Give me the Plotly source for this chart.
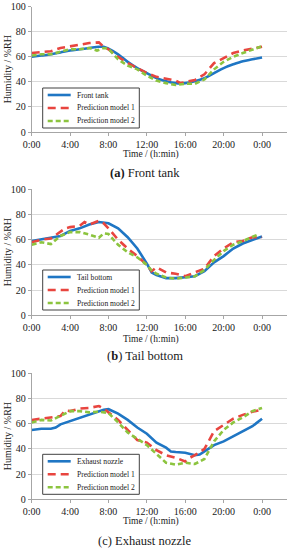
import plotly.graph_objects as go

# ---------------- data (hours of day, %RH) ----------------
tick_hours = [0, 4, 8, 12, 16, 20, 24]
tick_labels = ["0:00", "4:00", "8:00", "12:00", "16:00", "20:00", "0:00"]
series_names = ["Prediction model 1", "Prediction model 2"]

# (a) Front tank
a_meas_x = [0, 1, 2, 3, 4, 5, 6, 7, 7.5, 8, 9, 10, 11, 12, 13, 14, 15, 16, 17, 18, 19, 20, 21, 22, 23, 24]
a_meas_y = [60, 61, 62, 63.5, 65, 66, 67, 68, 68, 66.5, 62, 56, 51, 47, 43, 40.5, 39, 39, 40.5, 43, 47, 51, 54, 56.5, 58, 59.5]
a_p1_x = [0, 1, 2, 3, 4, 5, 6, 7, 7.5, 8, 9, 10, 11, 12, 13, 14, 15, 15.5, 16, 17, 18, 19, 20, 21, 22, 23, 24]
a_p1_y = [63, 63.5, 64.5, 67, 68.5, 70, 71, 71.5, 68, 66, 60, 55, 51, 47, 44, 42.5, 41, 39, 40, 41.5, 46, 55, 59, 63, 65, 66.5, 68]
a_p2_x = [0, 1, 2, 3, 4, 5, 6, 6.8, 7.5, 8, 9, 10, 11, 12, 13, 14, 15, 16, 17, 18, 19, 20, 21, 22, 23, 24]
a_p2_y = [61, 62, 62, 64, 66, 66, 67, 65, 67, 66.5, 58, 53, 50, 45, 41, 39, 37.5, 38.5, 38.5, 42, 50, 56, 60, 63, 66, 68.5]

# (b) Tail bottom
b_meas_x = [0, 1, 2, 3, 4, 5, 6, 7, 8, 9, 10, 11, 12, 12.5, 13, 14, 15, 16, 17, 18, 19, 20, 21, 22, 23, 24]
b_meas_y = [59, 60.5, 61.5, 63, 67, 69, 72, 74, 73, 69, 62, 53, 41, 34, 32, 29.5, 29.5, 30, 31, 35, 42, 47, 53, 57, 60, 62.5]
b_p1_x = [0, 1, 2, 3, 3.5, 4, 5, 5.5, 6, 7, 7.5, 8, 9, 10, 11, 12, 12.5, 13, 14, 15, 16, 17, 18, 19, 20, 21, 22, 23, 24]
b_p1_y = [58, 60, 61, 66, 69, 70, 71, 74, 72, 75, 73, 69, 60, 53, 47, 40, 35, 38, 34, 33, 31, 34, 37, 47, 53, 58, 59, 62, 62]
b_p2_x = [0, 1, 2, 3, 4, 5, 6, 7, 7.5, 8, 9, 10, 11, 12, 12.5, 13, 14, 15, 16, 17, 18, 19, 20, 21, 22, 23, 23.7]
b_p2_y = [56, 58, 56.5, 63, 66, 66, 64, 61.5, 65, 64.5, 56, 50, 46, 40, 35.5, 33, 30, 29, 30, 31, 36, 44, 51, 56, 59, 62, 64.5]

# (c) Exhaust nozzle
c_meas_x = [0, 0.5, 1, 2, 2.5, 3, 4, 5, 6, 7, 7.5, 8, 9, 10, 11, 12, 13, 14, 14.5, 15, 16, 17, 17.5, 18, 19, 20, 21, 22, 23, 24]
c_meas_y = [55, 55.5, 56, 56, 57, 59.5, 62, 65, 67, 69.5, 71, 71.5, 68, 63, 57, 52, 45, 41, 38, 37.5, 37, 35, 35.5, 38, 43, 46, 50, 54, 58, 64]
c_p1_x = [0, 1, 2, 3, 3.5, 4, 5, 6, 7, 7.5, 8, 9, 10, 11, 12, 13, 14, 15, 16, 16.5, 17, 18, 19, 20, 21, 22, 23, 24]
c_p1_y = [63, 64, 65, 66, 70.5, 70, 72, 72.5, 74, 72, 69, 63, 55, 47, 45, 39, 35, 33, 30, 33, 35, 40, 54, 59, 64, 67, 69.5, 71]
c_p2_x = [0, 1, 2, 3, 4, 5, 6, 7, 8, 9, 10, 11, 12, 13, 14, 15, 16, 17, 18, 19, 20, 21, 22, 23, 24]
c_p2_y = [61, 63, 62.5, 66, 70, 70, 69, 69.5, 68.5, 61, 53, 48, 43, 36, 29, 27.5, 29, 28, 32, 46, 55, 61, 65, 70, 72.5]

panels = [
    ("Front tank", "<b>(a)</b> Front tank", (a_meas_x, a_meas_y), (a_p1_x, a_p1_y), (a_p2_x, a_p2_y)),
    ("Tail bottom", "(<b>b</b>) Tail bottom", (b_meas_x, b_meas_y), (b_p1_x, b_p1_y), (b_p2_x, b_p2_y)),
    ("Exhaust nozzle", "(c) Exhaust nozzle", (c_meas_x, c_meas_y), (c_p1_x, c_p1_y), (c_p2_x, c_p2_y)),
]

# ---------------- layout geometry (pixels) ----------------
W, H = 291, 550
def px(p):
    return p / W
def py(p):
    return 1 - p / H

plot_tops = [6.7, 189.3, 373.3]
plot_bots = [132.0, 315.3, 499.3]
xtitle_y = [155, 339.3, 521.7]
caption_y = [173, 356, 540.5]
legend_top = [88, 270, 454.3]

BLUE = "#1f76c4"
RED = "#e8453f"
GREEN = "#8cc43f"
GRID = "#d9d9d9"
AXIS = "#a6a6a6"
TXT = "#1a1a1a"
FONT = "Liberation Serif, Times New Roman, Times, serif"

styles = [
    dict(color=BLUE, width=2.6, dash="solid"),
    dict(color=RED, width=2.6, dash="8px,5px"),
    dict(color=GREEN, width=2.6, dash="5px,3px"),
]

fig = go.Figure()
layout = dict(
    width=W, height=H, margin=dict(l=0, r=0, t=0, b=0),
    paper_bgcolor="white", plot_bgcolor="white",
    font=dict(family=FONT, size=10, color=TXT),
    showlegend=False,
    annotations=[], shapes=[],
)

def note(text, x, y, size, xanchor="center", angle=0):
    return dict(text=text, xref="paper", yref="paper", x=px(x), y=py(y),
                xanchor=xanchor, yanchor="middle", textangle=angle,
                showarrow=False, font=dict(family=FONT, size=size, color=TXT))

x_dom = [px(31.7), px(287)]
for i, (mname, cap, meas, p1, p2) in enumerate(panels):
    n = "" if i == 0 else str(i + 1)
    xa, ya = "x" + n, "y" + n
    names = [mname] + series_names
    datas = [meas, p1, p2]
    for k in range(3):
        st = dict(styles[k])
        if k == 0 and i == 0:
            st["shape"] = "spline"
        fig.add_trace(go.Scatter(x=datas[k][0], y=datas[k][1], mode="lines", name=names[k],
                                 line=st, xaxis=xa, yaxis=ya))
    layout["xaxis" + n] = dict(
        domain=x_dom, anchor=ya, range=[0, 26.6], automargin=False,
        tickvals=tick_hours, ticktext=tick_labels,
        showgrid=False, zeroline=False, showline=True, linecolor=AXIS, linewidth=1,
        ticks="outside", ticklen=3, tickcolor=AXIS,
        tickfont=dict(family=FONT, size=10, color=TXT),
    )
    layout["yaxis" + n] = dict(
        domain=[py(plot_bots[i]), py(plot_tops[i])], anchor=xa, range=[0, 100],
        automargin=False,
        dtick=20, showgrid=True, gridcolor=GRID, gridwidth=1,
        zeroline=False, showline=True, linecolor=AXIS, linewidth=1,
        ticks="outside", ticklen=3, tickcolor=AXIS,
        tickfont=dict(family=FONT, size=10, color=TXT),
    )
    layout["annotations"].append(note("Humidity / %RH", 7, (plot_tops[i] + plot_bots[i]) / 2, 10, angle=-90))
    layout["annotations"].append(note("Time / (h:min)", 151, xtitle_y[i], 9.5))
    layout["annotations"].append(note(cap, 144.5, caption_y[i], 12.5))
    # legend box
    top = legend_top[i]
    layout["shapes"].append(dict(
        type="rect", xref="paper", yref="paper",
        x0=px(42.7), x1=px(139.3), y0=py(top + 40), y1=py(top),
        line=dict(color="#404040", width=1), fillcolor="white", layer="above"))
    for k in range(3):
        ry = top + 7 + 13 * k
        layout["shapes"].append(dict(
            type="line", xref="paper", yref="paper",
            x0=px(47.7), x1=px(70.7), y0=py(ry), y1=py(ry),
            line=styles[k], layer="above"))
        layout["annotations"].append(note(names[k], 74.5, ry, 7.6, xanchor="left"))

fig.update_layout(**layout)
fig.write_html("out.html", config={"displayModeBar": False},
               post_script="document.body.style.margin='0';")
